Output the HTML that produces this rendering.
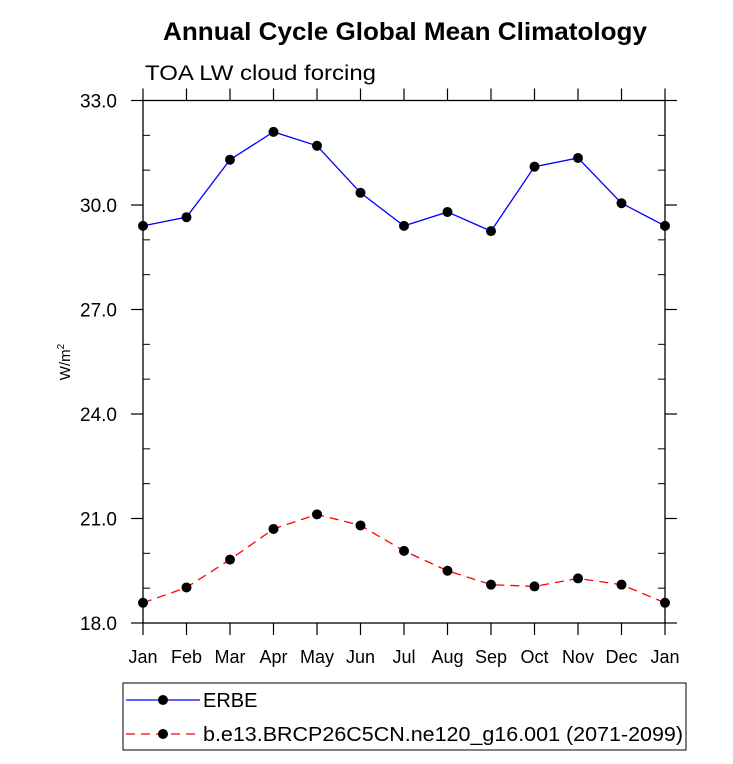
<!DOCTYPE html>
<html><head><meta charset="utf-8"><style>
body{margin:0;background:#fff;}
svg text{font-family:"Liberation Sans",Arial,sans-serif;}
</style></head><body>
<svg id="chart" width="733" height="759" xmlns="http://www.w3.org/2000/svg">
<text x="163" y="40" font-size="25" font-weight="bold" textLength="484" lengthAdjust="spacingAndGlyphs">Annual Cycle Global Mean Climatology</text>
<text x="145" y="80" font-size="21" textLength="231" lengthAdjust="spacingAndGlyphs">TOA LW cloud forcing</text>
<text transform="translate(70,362) rotate(-90)" text-anchor="middle" font-size="15">W/m<tspan dy="-6" font-size="10">2</tspan></text>
<g id="axes"></g>
<g id="series"></g>
<g>
<rect x="123" y="683" width="563" height="67" fill="none" stroke="#000" stroke-width="1"/>
<line x1="126" y1="700" x2="200" y2="700" stroke="#0000ff" stroke-width="1.3"/>
<circle cx="163" cy="700" r="5" fill="#000"/>
<text x="203" y="707" font-size="20">ERBE</text>
<line x1="126" y1="734" x2="200" y2="734" stroke="#ff0000" stroke-width="1.3" stroke-dasharray="9,6"/>
<circle cx="163" cy="734" r="5" fill="#000"/>
<text x="203" y="741" font-size="20" textLength="480" lengthAdjust="spacingAndGlyphs">b.e13.BRCP26C5CN.ne120_g16.001 (2071-2099)</text>
</g>
</svg>
<script>
const months = ["Jan","Feb","Mar","Apr","May","Jun","Jul","Aug","Sep","Oct","Nov","Dec","Jan"];
const erbe = [29.4,29.65,31.3,32.1,31.7,30.35,29.4,29.8,29.25,31.1,31.35,30.05,29.4];
const model = [18.58,19.02,19.82,20.7,21.12,20.8,20.07,19.5,19.1,19.05,19.28,19.1,18.58];
const yTicks = ["18.0","21.0","24.0","27.0","30.0","33.0"];
const NS="http://www.w3.org/2000/svg";
const L=143,R=665,T=100.5,B=623,YMIN=18,YMAX=33;
const xs=i=>L+(R-L)*i/(months.length-1);
const ys=v=>B-(v-YMIN)/(YMAX-YMIN)*(B-T);
function mk(tag,attrs,parent){const e=document.createElementNS(NS,tag);for(const k in attrs)e.setAttribute(k,attrs[k]);parent.appendChild(e);return e;}
const ax=document.getElementById('axes');
const frame=mk('rect',{x:L,y:T,width:R-L,height:B-T,fill:'none',stroke:'#000','stroke-width':1.3},ax);


months.forEach((m,i)=>{
  const x=xs(i);
  mk('line',{x1:x,y1:B,x2:x,y2:B+12,stroke:'#000','stroke-width':1.2},ax);
  mk('line',{x1:x,y1:T,x2:x,y2:T-12,stroke:'#000','stroke-width':1.2},ax);
  const t=mk('text',{x:x,y:B+40,'text-anchor':'middle','font-size':18},ax);
  t.textContent=m;
  
  
});
yTicks.forEach(s=>{
  const y=ys(parseFloat(s));
  mk('line',{x1:L,y1:y,x2:L-12,y2:y,stroke:'#000','stroke-width':1.2},ax);
  mk('line',{x1:R,y1:y,x2:R+12,y2:y,stroke:'#000','stroke-width':1.2},ax);
  const t=mk('text',{x:L-26,y:y+7,'text-anchor':'end','font-size':19},ax);
  t.textContent=s;
  
  
});
for(let v=YMIN+1;v<YMAX;v++){
  if((v-YMIN)%3===0)continue;
  const y=ys(v);
  mk('line',{x1:L,y1:y,x2:L+7,y2:y,stroke:'#000','stroke-width':1},ax);
  mk('line',{x1:R,y1:y,x2:R-7,y2:y,stroke:'#000','stroke-width':1},ax);
}
const sg=document.getElementById('series');
function series(data,color,dash,name){
  const pts=data.map((v,i)=>xs(i)+','+ys(v)).join(' ');
  const pl=mk('polyline',{points:pts,fill:'none',stroke:color,'stroke-width':1.3},sg);
  if(dash)pl.setAttribute('stroke-dasharray',dash);
  
  
  data.forEach((v,i)=>{
    const c=mk('circle',{cx:xs(i),cy:ys(v),r:5,fill:'#000'},sg);
    
    
  });
}
series(erbe,'#0000ff',null,'erbe');
series(model,'#ff0000','9,6','model');
</script>
</body></html>
